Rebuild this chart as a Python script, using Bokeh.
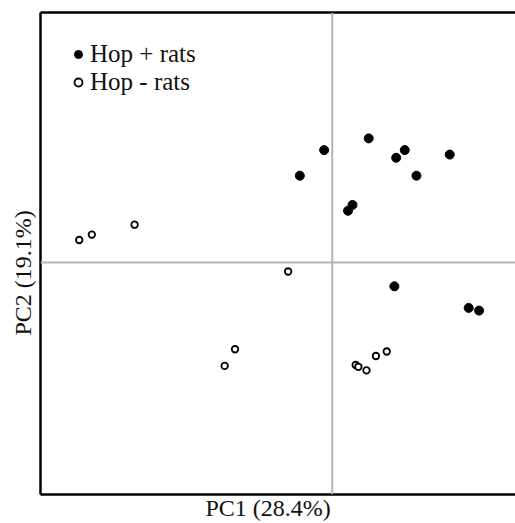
from bokeh.plotting import figure
from bokeh.models import Range1d, Span, LinearAxis, FixedTicker, Legend, LegendItem, Title
from bokeh.embed import file_html
from bokeh.resources import INLINE

# PCA scores
plus_pc1 = [-0.72, -0.18, 0.81, 1.42, 1.61, 1.87, 2.61, 0.45, 0.35, 1.38, 3.03, 3.26]
plus_pc2 = [1.93, 2.50, 2.76, 2.33, 2.50, 1.93, 2.40, 1.28, 1.15, -0.53, -1.01, -1.07]
minus_pc1 = [-5.62, -5.34, -4.39, -0.98, -2.16, -2.39, 0.52, 0.58, 0.76, 0.97, 1.21]
minus_pc2 = [0.50, 0.62, 0.84, -0.20, -1.93, -2.30, -2.28, -2.32, -2.40, -2.08, -1.98]
labels = ["Hop + rats", "Hop - rats"]
x_title = "PC1 (28.4%)"
y_title = "PC2 (19.1%)"

FONT = "Liberation Serif"

p = figure(width=515, height=523, output_backend="svg", toolbar_location=None,
           x_range=Range1d(-6.48, 4.07), y_range=Range1d(-5.16, 5.56),
           min_border_left=40, min_border_right=0, min_border_top=12, min_border_bottom=29)
p.outline_line_color = None
p.grid.visible = False
p.background_fill_color = "white"
p.border_fill_color = "white"

for ax in (p.xaxis[0], p.yaxis[0]):
    ax.ticker = FixedTicker(ticks=[])
    ax.major_tick_out = 0
    ax.major_tick_in = 0
    ax.minor_tick_out = 0
    ax.minor_tick_in = 0
    ax.major_label_standoff = 0
    ax.axis_line_color = "black"
    ax.axis_line_width = 2.5

top = LinearAxis(ticker=FixedTicker(ticks=[]), major_tick_out=0, major_tick_in=0,
                 minor_tick_out=0, minor_tick_in=0, major_label_standoff=0,
                 axis_line_color="black", axis_line_width=2.5)
p.add_layout(top, "above")

# axis titles as side titles (allow an offset along the frame)
p.add_layout(Title(text=x_title, align="left", offset=165, vertical_align="top", standoff=0,
                   text_font=FONT, text_font_size="24px", text_font_style="normal",
                   text_color="#111111"), "below")
p.add_layout(Title(text=y_title, align="left", offset=159, vertical_align="bottom", standoff=10,
                   text_font=FONT, text_font_size="24px", text_font_style="normal",
                   text_color="#111111"), "left")

p.add_layout(Span(location=0, dimension="width", line_color="#b4b4b4", line_width=2))
p.add_layout(Span(location=0, dimension="height", line_color="#b4b4b4", line_width=2))

r1 = p.scatter(plus_pc1, plus_pc2, size=9, fill_color="black", line_color="black")
r2 = p.scatter(minus_pc1, minus_pc2, size=6.5, fill_color="white", line_color="black", line_width=1.8)

legend = Legend(items=[LegendItem(label=labels[0], renderers=[r1]),
                       LegendItem(label=labels[1], renderers=[r2])],
                location="top_left", margin=28, padding=0, spacing=-4,
                glyph_width=20, glyph_height=20, label_height=20, label_standoff=2,
                label_text_font=FONT, label_text_font_size="25px",
                label_text_color="#111111",
                background_fill_alpha=0, border_line_color=None)
p.add_layout(legend)

open("out.html", "w").write(file_html(p, INLINE))
